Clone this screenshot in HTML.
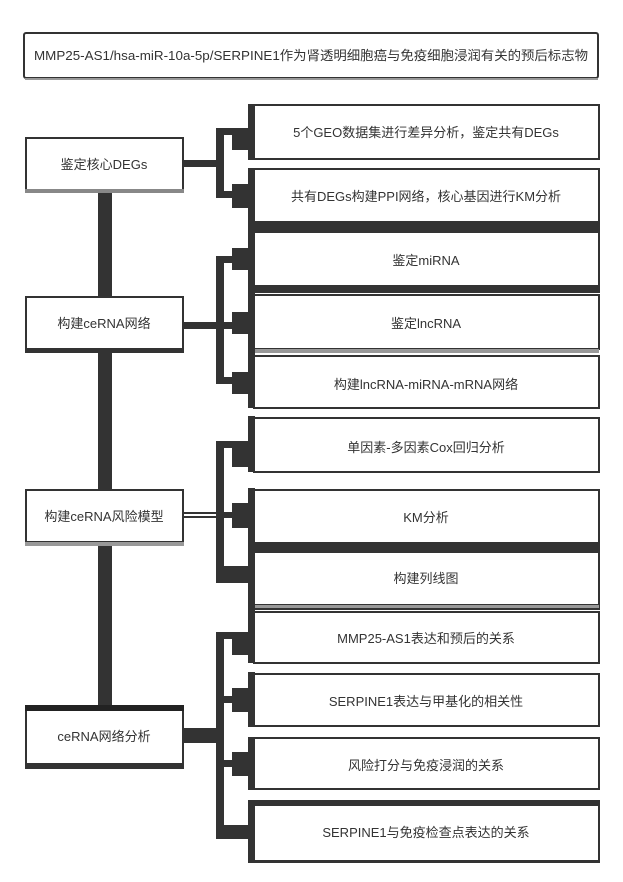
<!DOCTYPE html>
<html><head><meta charset="utf-8"><style>
html,body{margin:0;padding:0;background:#fff;}
svg{display:block;}
text{font-family:"Liberation Sans","Noto Sans CJK SC",sans-serif;fill:#333;font-size:13px;}
</style></head><body>
<svg width="623" height="882" viewBox="0 0 623 882" xmlns="http://www.w3.org/2000/svg">
<rect x="0" y="0" width="623" height="882" fill="#fff"/>
<rect x="24" y="33" width="574" height="45" fill="#fff" stroke="#333" stroke-width="2" rx="2"/>
<line x1="25" y1="79" x2="598" y2="79" stroke="#999" stroke-width="2"/>
<text x="311" y="60" text-anchor="middle" textLength="554" lengthAdjust="spacingAndGlyphs">MMP25-AS1/hsa-miR-10a-5p/SERPINE1作为肾透明细胞癌与免疫细胞浸润有关的预后标志物</text>

<rect x="98" y="190" width="14" height="516" fill="#333"/>

<g fill="#fff" stroke="#333" stroke-width="2">
<rect x="26" y="138" width="157" height="52"/>
<rect x="26" y="297" width="157" height="52"/>
<rect x="26" y="490" width="157" height="52"/>
<rect x="26" y="710" width="157" height="54"/>
</g>
<rect x="25" y="705" width="159" height="6" fill="#222"/>
<rect x="25" y="763" width="159" height="6" fill="#333"/>
<rect x="25" y="349" width="159" height="4" fill="#333"/>
<rect x="25" y="189" width="159" height="4" fill="#888"/>
<rect x="25" y="542" width="159" height="4" fill="#999"/>
<text x="104" y="169" text-anchor="middle">鉴定核心DEGs</text>
<text x="104" y="328" text-anchor="middle">构建ceRNA网络</text>
<text x="104" y="521" text-anchor="middle">构建ceRNA风险模型</text>
<text x="104" y="741" text-anchor="middle">ceRNA网络分析</text>

<g fill="#333">
<rect x="183" y="160" width="36" height="7"/>
<rect x="216" y="128" width="8" height="70"/>
<rect x="216" y="128" width="32" height="7"/>
<rect x="216" y="191" width="32" height="7"/>
<rect x="232" y="128" width="16" height="22"/>
<rect x="232" y="184" width="16" height="24"/>
<rect x="183" y="322" width="36" height="7"/>
<rect x="216" y="256" width="8" height="128"/>
<rect x="216" y="256" width="32" height="7"/>
<rect x="216" y="322" width="32" height="7"/>
<rect x="216" y="377" width="32" height="7"/>
<rect x="232" y="248" width="16" height="22"/>
<rect x="232" y="312" width="16" height="22"/>
<rect x="232" y="372" width="16" height="22"/>
<rect x="183" y="512" width="36" height="2"/>
<rect x="183" y="516" width="36" height="2"/>
<rect x="216" y="441" width="8" height="142"/>
<rect x="216" y="441" width="32" height="7"/>
<rect x="216" y="512" width="32" height="6"/>
<rect x="216" y="566" width="32" height="17"/>
<rect x="232" y="447" width="16" height="20"/>
<rect x="232" y="503" width="16" height="25"/>
<rect x="183" y="728" width="36" height="15"/>
<rect x="216" y="632" width="8" height="207"/>
<rect x="216" y="632" width="32" height="7"/>
<rect x="216" y="696" width="32" height="7"/>
<rect x="216" y="760" width="32" height="7"/>
<rect x="216" y="825" width="32" height="14"/>
<rect x="232" y="639" width="16" height="16"/>
<rect x="232" y="688" width="16" height="24"/>
<rect x="232" y="752" width="16" height="24"/>
</g>

<g fill="#fff" stroke="#333" stroke-width="2">
<rect x="254" y="105" width="345" height="54"/>
<rect x="254" y="169" width="345" height="53"/>
<rect x="254" y="232" width="345" height="54"/>
<rect x="254" y="295" width="345" height="54"/>
<rect x="254" y="356" width="345" height="52"/>
<rect x="254" y="418" width="345" height="54"/>
<rect x="254" y="490" width="345" height="54"/>
<rect x="254" y="552" width="345" height="53"/>
<rect x="254" y="612" width="345" height="51"/>
<rect x="254" y="674" width="345" height="52"/>
<rect x="254" y="738" width="345" height="51"/>
<rect x="254" y="805" width="345" height="57"/>
</g>
<g fill="#333">
<rect x="248" y="104" width="7" height="56"/>
<rect x="248" y="168" width="7" height="240"/>
<rect x="248" y="416" width="7" height="56"/>
<rect x="248" y="488" width="7" height="175"/>
<rect x="248" y="672" width="7" height="55"/>
<rect x="248" y="737" width="7" height="53"/>
<rect x="248" y="800" width="7" height="63"/>
<rect x="248" y="222" width="352" height="9"/>
<rect x="248" y="286" width="352" height="7"/>
<rect x="248" y="542" width="352" height="9"/>
<rect x="248" y="604" width="352" height="6"/>
<rect x="248" y="800" width="352" height="5"/>
<rect x="248" y="860" width="352" height="3"/>
</g>
<g fill="#999">
<rect x="255" y="349" width="344" height="4"/>
<rect x="255" y="605" width="344" height="3"/>
</g>
<g text-anchor="middle">
<text x="426" y="137">5个GEO数据集进行差异分析，鉴定共有DEGs</text>
<text x="426" y="201">共有DEGs构建PPI网络，核心基因进行KM分析</text>
<text x="426" y="265">鉴定miRNA</text>
<text x="426" y="328">鉴定lncRNA</text>
<text x="426" y="389">构建lncRNA-miRNA-mRNA网络</text>
<text x="426" y="452">单因素-多因素Cox回归分析</text>
<text x="426" y="522">KM分析</text>
<text x="426" y="583">构建列线图</text>
<text x="426" y="643">MMP25-AS1表达和预后的关系</text>
<text x="426" y="706">SERPINE1表达与甲基化的相关性</text>
<text x="426" y="770">风险打分与免疫浸润的关系</text>
<text x="426" y="837">SERPINE1与免疫检查点表达的关系</text>
</g>
</svg>
</body></html>
